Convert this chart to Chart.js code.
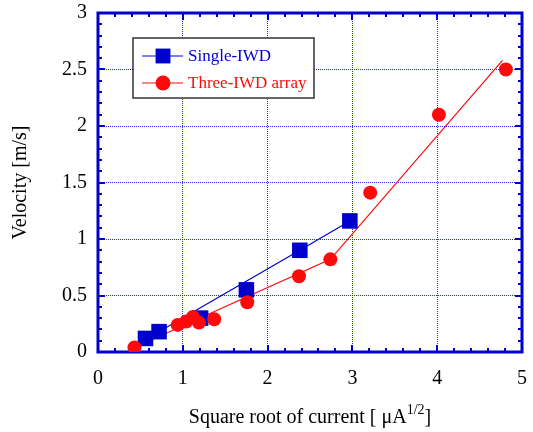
<!DOCTYPE html>
<html>
<head>
<meta charset="utf-8">
<script src="https://cdn.jsdelivr.net/npm/chart.js@4"></script>
<style>
  html, body { margin: 0; padding: 0; background: #fff; }
  #wrap { width: 533px; height: 432px; }
</style>
</head>
<body>
<div id="wrap"><canvas id="myChart" width="533" height="432"></canvas></div>
<script>
const singleX = [0.56, 0.72, 1.21, 1.75, 2.38, 2.97];
const singleY = [0.12, 0.18, 0.30, 0.55, 0.90, 1.16];

const threeX = [0.43, 0.94, 1.04, 1.12, 1.19, 1.37, 1.76, 2.37, 2.74, 3.21, 4.02, 4.81];
const threeY = [0.04, 0.24, 0.27, 0.31, 0.26, 0.29, 0.44, 0.67, 0.82, 1.41, 2.10, 2.50];

// fitted lines
const singleFitX = [0.56, 2.38, 2.97];
const singleFitY = [0.11, 0.90, 1.16];
const threeFitX = [0.43, 2.74, 4.77];
const threeFitY = [0.04, 0.82, 2.58];

const xTicks = [0, 1, 2, 3, 4, 5];
const yTicks = [0, 0.5, 1, 1.5, 2, 2.5, 3];

const seriesNames = ['Single-IWD', 'Three-IWD array'];

const BLUE = 'rgb(0, 0, 204)';
const RED = 'rgb(255, 10, 10)';
const GRID = 'rgba(20, 20, 215, 0.9)';
const SERIF = "'Liberation Serif', 'Times New Roman', serif";

const pts = (xs, ys) => xs.map((x, i) => ({ x: x, y: ys[i] }));

// frame with inward ticks on all four sides
const framePlugin = {
    id: 'frame',
    beforeDatasetsDraw(chart) {
        const { ctx, chartArea: a, scales } = chart;
        const xs = scales.x, ys = scales.y;
        ctx.save();
        ctx.strokeStyle = BLUE;
        ctx.lineWidth = 2;
        for (let i = 0; i <= 25; i++) {
            const v = i * 0.2;
            const px = Math.round(xs.getPixelForValue(v));
            const len = (i % 5 === 0) ? 7 : 4;
            ctx.beginPath();
            ctx.moveTo(px, a.bottom); ctx.lineTo(px, a.bottom - len);
            ctx.moveTo(px, a.top); ctx.lineTo(px, a.top + len);
            ctx.stroke();
        }
        for (let i = 0; i <= 30; i++) {
            const v = i * 0.1;
            const py = Math.round(ys.getPixelForValue(v));
            const len = (i % 5 === 0) ? 7 : 4;
            ctx.beginPath();
            ctx.moveTo(a.left, py); ctx.lineTo(a.left + len, py);
            ctx.moveTo(a.right, py); ctx.lineTo(a.right - len, py);
            ctx.stroke();
        }
        ctx.lineWidth = 3;
        ctx.strokeRect(a.left, a.top, a.right - a.left, a.bottom - a.top);
        ctx.restore();
    },
    afterDraw(chart) {
        const { ctx, chartArea: a } = chart;
        ctx.save();
        // x axis title with superscript
        ctx.fillStyle = '#000';
        ctx.textBaseline = 'alphabetic';
        const main = 'Square root of current [ \u03bcA';
        const sup = '1/2';
        const tail = ']';
        ctx.font = '20px ' + SERIF;
        const w1 = ctx.measureText(main).width;
        const w3 = ctx.measureText(tail).width;
        ctx.font = '14px ' + SERIF;
        const w2 = ctx.measureText(sup).width;
        const cx = (a.left + a.right) / 2;
        let x = cx - (w1 + w2 + w3) / 2;
        const base = 423;
        ctx.font = '20px ' + SERIF;
        ctx.fillText(main, x, base);
        ctx.font = '14px ' + SERIF;
        ctx.fillText(sup, x + w1, base - 9);
        ctx.font = '20px ' + SERIF;
        ctx.fillText(tail, x + w1 + w2, base);
        ctx.restore();
    },
    afterDatasetsDraw(chart) {
        const { ctx, chartArea: a } = chart;
        const bx = a.left + 35, by = a.top + 25, bw = 181, bh = 60;
        ctx.save();
        ctx.fillStyle = '#fff';
        ctx.fillRect(bx, by, bw, bh);
        ctx.strokeStyle = '#333';
        ctx.lineWidth = 1.5;
        ctx.strokeRect(bx, by, bw, bh);
        const rows = [
            { y: by + 18, color: BLUE, style: 'rect', r: 10.5 },
            { y: by + 45, color: RED, style: 'circle', r: 7.5 }
        ];
        rows.forEach((row, i) => {
            ctx.strokeStyle = row.color;
            ctx.lineWidth = 1.2;
            ctx.beginPath();
            ctx.moveTo(bx + 9, row.y);
            ctx.lineTo(bx + 50, row.y);
            ctx.stroke();
            ctx.fillStyle = row.color;
            ctx.beginPath();
            if (row.style === 'rect') {
                const s = row.r * Math.SQRT1_2;
                ctx.fillRect(bx + 30 - s, row.y - s, 2 * s, 2 * s);
            } else {
                ctx.arc(bx + 30, row.y, row.r, 0, Math.PI * 2);
                ctx.fill();
            }
            ctx.font = '17px ' + SERIF;
            ctx.textBaseline = 'middle';
            ctx.fillText(chart.data.datasets[i].label, bx + 55, row.y + 1);
        });
        ctx.restore();
    }
};

const data = {
    datasets: [
        {
            label: seriesNames[0],
            data: pts(singleX, singleY),
            pointStyle: 'rect',
            pointRadius: 11,
            pointHoverRadius: 11,
            backgroundColor: BLUE,
            borderColor: BLUE,
            borderWidth: 0,
            order: 2
        },
        {
            label: seriesNames[1],
            data: pts(threeX, threeY),
            pointStyle: 'circle',
            pointRadius: 7,
            pointHoverRadius: 7,
            backgroundColor: RED,
            borderColor: RED,
            borderWidth: 0,
            order: 1
        },
        {
            label: 'fit1',
            data: pts(singleFitX, singleFitY),
            showLine: true,
            pointRadius: 0,
            borderColor: BLUE,
            borderWidth: 1.2,
            order: 3
        },
        {
            label: 'fit2',
            data: pts(threeFitX, threeFitY),
            showLine: true,
            pointRadius: 0,
            borderColor: RED,
            borderWidth: 1.2,
            order: 3
        }
    ]
};

const config = {
    type: 'scatter',
    data,
    options: {
        responsive: false,
        animation: false,
        layout: {
            padding: { top: 13, right: 7, bottom: 0, left: 0 }
        },
        scales: {
            x: {
                type: 'linear',
                min: 0,
                max: 5,
                afterFit: (s) => { s.height = 80; s.paddingLeft = 0; s.paddingRight = 0; },
                afterBuildTicks: (s) => { s.ticks = xTicks.map(v => ({ value: v })); },
                ticks: {
                    padding: 15,
                    color: '#000',
                    font: { family: SERIF, size: 20 },
                    callback: (v) => String(v)
                },
                grid: {
                    color: GRID,
                    lineWidth: 1,
                    drawTicks: false
                },
                border: { display: false, dash: [1, 1] }
            },
            y: {
                type: 'linear',
                min: 0,
                max: 3,
                afterFit: (s) => { s.width = 98; s.paddingTop = 0; s.paddingBottom = 0; },
                afterBuildTicks: (s) => { s.ticks = yTicks.map(v => ({ value: v })); },
                ticks: {
                    padding: 11,
                    color: '#000',
                    font: { family: SERIF, size: 20 },
                    callback: (v) => String(v)
                },
                grid: {
                    color: GRID,
                    lineWidth: 1,
                    drawTicks: false
                },
                border: { display: false, dash: [1, 1] },
                title: {
                    display: true,
                    text: 'Velocity [m/s]',
                    color: '#000',
                    font: { family: SERIF, size: 20 },
                    padding: { top: 9, bottom: 0 }
                }
            }
        },
        plugins: {
            legend: { display: false },
            tooltip: { enabled: false }
        }
    },
    plugins: [framePlugin]
};

const myChart = new Chart(
    document.getElementById('myChart').getContext('2d'),
    config
);
</script>
</body>
</html>
